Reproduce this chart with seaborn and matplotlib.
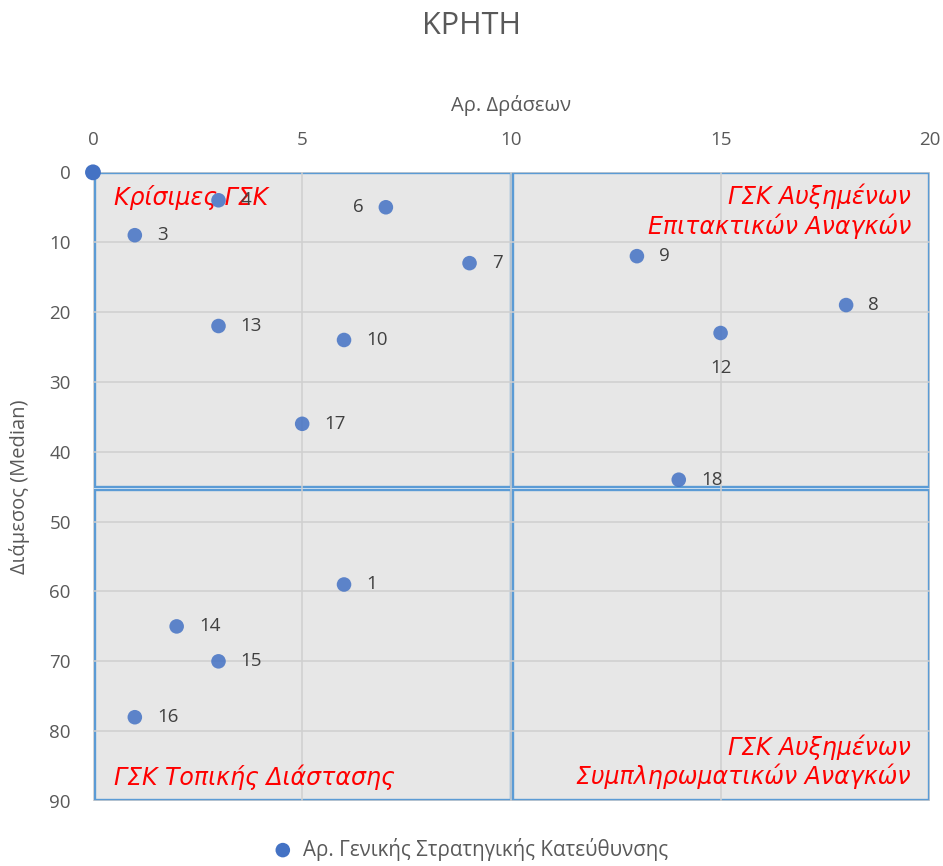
import matplotlib
matplotlib.use("Agg")
import matplotlib.pyplot as plt
import seaborn as sns
import pandas as pd
from matplotlib.patches import Rectangle

# ---- data ----
gsk_ids = ["1", "3", "4", "6", "7", "8", "9", "10", "12", "13", "14", "15", "16", "17", "18"]
num_actions = [6, 1, 3, 7, 9, 18, 13, 6, 15, 3, 2, 3, 1, 5, 14]
median_rank = [59, 9, 4, 5, 13, 19, 12, 24, 23, 22, 65, 70, 78, 36, 44]
label_pos = ["right", "right", "right", "left", "right", "right", "right", "right",
             "below", "right", "right", "right", "right", "right", "right"]
origin_x = [0]
origin_y = [0]

quadrant_names = ["Κρίσιμες ΓΣΚ", "ΓΣΚ Αυξημένων\nΕπιτακτικών Αναγκών",
                  "ΓΣΚ Τοπικής Διάστασης", "ΓΣΚ Αυξημένων\nΣυμπληρωματικών Αναγκών"]
x_ticks = [0, 5, 10, 15, 20]
y_ticks = [0, 10, 20, 30, 40, 50, 60, 70, 80, 90]
title = "ΚΡΗΤΗ"
x_label = "Αρ. Δράσεων"
y_label = "Διάμεσος (Median)"
series_name = "Αρ. Γενικής Στρατηγικής Κατεύθυνσης"

df = pd.DataFrame({"id": gsk_ids, "x": num_actions, "y": median_rank, "pos": label_pos})

sns.set_style("white")
plt.rcParams["font.family"] = ["Open Sans", "DejaVu Sans"]

fig = plt.figure(figsize=(9.43, 8.66), dpi=100)
ax = fig.add_axes([0.0986, 0.075, 0.8874, 0.726])

ax.set_xlim(0, 20)
ax.set_ylim(90, 0)

# quadrant rectangles
fill = "#E7E7E7"
edge = "#5B9BD5"
rects = [(0.05, 0.1, 9.93, 44.9), (10.04, 0.1, 9.93, 44.9),
         (0.05, 45.45, 9.93, 44.45), (10.04, 45.45, 9.93, 44.45)]
for (rx, ry, rw, rh) in rects:
    ax.add_patch(Rectangle((rx, ry), rw, rh, facecolor=fill, edgecolor=edge,
                           linewidth=1.7, zorder=0.3))

ax.set_axisbelow(True)
ax.grid(True, color="#CFCFCF", linewidth=1.1)
ax.set_xticks(x_ticks)
ax.set_yticks(y_ticks)

sns.scatterplot(data=df, x="x", y="y", ax=ax, s=110, color="#4472C4", alpha=0.85,
                edgecolor="none", label=series_name, zorder=3)
ax.scatter(origin_x, origin_y, s=130, color="#4472C4", edgecolor="none", zorder=4,
           clip_on=False)

for _, r in df.iterrows():
    if r["pos"] == "right":
        off, ha, va = (16, 0), "left", "center"
    elif r["pos"] == "left":
        off, ha, va = (-16, 0), "right", "center"
    else:
        off, ha, va = (0, -25), "center", "center"
    ax.annotate(r["id"], (r["x"], r["y"]), xytext=off, textcoords="offset points",
                ha=ha, va=va, fontsize=13.5, color="#404040", zorder=5)

red = "#FF0000"
qfont = dict(color=red, style="italic", fontsize=17, family="DejaVu Sans", zorder=2)
ax.text(0.5, 3.6, quadrant_names[0], ha="left", va="center", **qfont)
ax.text(19.55, 5.6, quadrant_names[1], ha="right", va="center", linespacing=1.2, **qfont)
ax.text(0.5, 86.6, quadrant_names[2], ha="left", va="center", **qfont)
ax.text(19.55, 84.4, quadrant_names[3], ha="right", va="center", linespacing=1.2, **qfont)

ax.xaxis.tick_top()
ax.xaxis.set_label_position("top")
ax.tick_params(axis="x", length=0, labelsize=13.5, labelcolor="#595959", pad=17)
ax.tick_params(axis="y", length=0, labelsize=13.5, labelcolor="#595959", pad=16)
ax.set_xlabel(x_label, fontsize=14.5, color="#595959", labelpad=14)
ax.set_ylabel(y_label, fontsize=14.5, color="#595959", labelpad=14)
for s in ax.spines.values():
    s.set_visible(False)

fig.suptitle(title, y=0.987, fontsize=22, color="#595959", va="top")

leg = ax.legend(loc="lower center", bbox_to_anchor=(0.445, -0.124), frameon=False,
                fontsize=14.8, handletextpad=0.0, markerscale=1.0)
for t in leg.get_texts():
    t.set_color("#595959")
for h in leg.legend_handles:
    h.set_alpha(1)

fig.savefig("out.png", dpi=100)
